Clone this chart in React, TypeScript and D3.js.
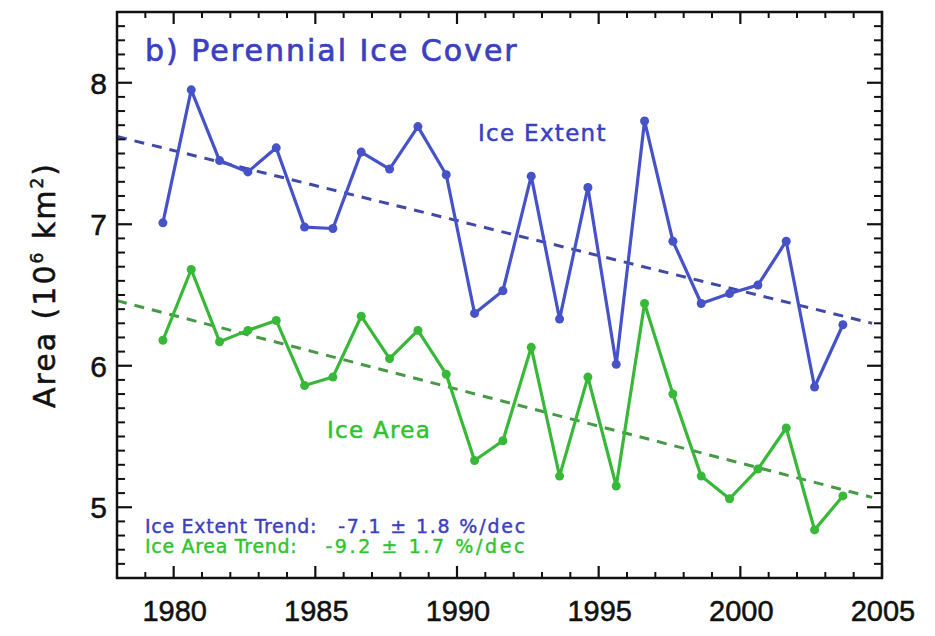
import React from 'react';
import * as d3 from 'd3';

const years = [1979, 1980, 1981, 1982, 1983, 1984, 1985, 1986, 1987, 1988, 1989, 1990, 1991, 1992, 1993, 1994, 1995, 1996, 1997, 1998, 1999, 2000, 2001, 2002, 2003];
const iceExtent = [7.01, 7.95, 7.45, 7.37, 7.54, 6.98, 6.97, 7.51, 7.39, 7.69, 7.35, 6.37, 6.53, 7.34, 6.33, 7.26, 6.01, 7.73, 6.88, 6.44, 6.51, 6.57, 6.88, 5.85, 6.29];
const iceArea = [6.18, 6.68, 6.17, 6.25, 6.32, 5.86, 5.92, 6.35, 6.05, 6.25, 5.94, 5.33, 5.47, 6.13, 5.22, 5.92, 5.15, 6.44, 5.80, 5.22, 5.06, 5.27, 5.56, 4.84, 5.08];
const trendYears = [1978, 2004.65];
const extentTrend = [7.62, 6.30];
const areaTrend = [6.46, 5.07];
const xTickLabels = [1980, 1985, 1990, 1995, 2000, 2005];
const yTickLabels = [5, 6, 7, 8];

const W = 935, H = 636;
const L = 117, R = 882, T = 12, B = 578;
const SEASON_OFFSET = 0.62;

const BLUE = '#4652c8';
const BLUE_DASH = '#4049a8';
const BLUE_TEXT = '#3b3fc0';
const GREEN = '#38b838';
const GREEN_DASH = '#469a46';
const GREEN_TEXT = '#2fc42f';

export default function App() {
  const x = d3.scaleLinear().domain([1978, 2005]).range([L, R]);
  const y = d3.scaleLinear().domain([4.5, 8.5]).range([B, T]);
  const line = d3.line<[number, number]>().x(d => x(d[0])).y(d => y(d[1]));

  const extPts: [number, number][] = years.map((yr, i) => [yr + SEASON_OFFSET, iceExtent[i]]);
  const areaPts: [number, number][] = years.map((yr, i) => [yr + SEASON_OFFSET, iceArea[i]]);
  const extTr: [number, number][] = trendYears.map((yr, i) => [yr, extentTrend[i]]);
  const areaTr: [number, number][] = trendYears.map((yr, i) => [yr, areaTrend[i]]);

  const xMinor = d3.range(1978, 2006, 1).filter(v => v % 5 !== 0);
  const yMinor = d3.range(45, 86, 1).map(v => v / 10).filter(v => Math.abs(v - Math.round(v)) > 1e-6);

  const font = '"DejaVu Sans", sans-serif';
  const numFont = '"Liberation Sans", Arial, sans-serif';

  return (
    <svg width={W} height={H} style={{ position: 'absolute', left: 0, top: 0, background: '#fff' }}>
      <rect x={0} y={0} width={W} height={H} fill="#fff" />
      {/* trend lines */}
      <path d={line(extTr) || ''} fill="none" stroke={BLUE_DASH} strokeWidth={3} strokeDasharray="10 8" />
      <path d={line(areaTr) || ''} fill="none" stroke={GREEN_DASH} strokeWidth={3} strokeDasharray="10 8" />
      {/* data lines */}
      <path d={line(extPts) || ''} fill="none" stroke={BLUE} strokeWidth={3.2} strokeLinejoin="round" />
      <path d={line(areaPts) || ''} fill="none" stroke={GREEN} strokeWidth={3.2} strokeLinejoin="round" />
      {extPts.map((p, i) => <circle key={'e' + i} cx={x(p[0])} cy={y(p[1])} r={4.5} fill={BLUE} />)}
      {areaPts.map((p, i) => <circle key={'a' + i} cx={x(p[0])} cy={y(p[1])} r={4.5} fill={GREEN} />)}

      {/* frame */}
      <rect x={L} y={T} width={R - L} height={B - T} fill="none" stroke="#111" strokeWidth={2.5} />
      {/* y ticks */}
      {yTickLabels.map(v => (
        <g key={'ym' + v}>
          <line x1={L} x2={L + 15} y1={y(v)} y2={y(v)} stroke="#111" strokeWidth={2.2} />
          <line x1={R} x2={R - 15} y1={y(v)} y2={y(v)} stroke="#111" strokeWidth={2.2} />
          <text x={107} y={y(v) + 11} textAnchor="end" fontFamily={numFont} fontSize={30} fill="#111" stroke="#111" strokeWidth={0.5}>{v}</text>
        </g>
      ))}
      {yMinor.map(v => (
        <g key={'yn' + v}>
          <line x1={L} x2={L + 8} y1={y(v)} y2={y(v)} stroke="#111" strokeWidth={2} />
          <line x1={R} x2={R - 8} y1={y(v)} y2={y(v)} stroke="#111" strokeWidth={2} />
        </g>
      ))}
      {/* x ticks */}
      {xTickLabels.map(v => (
        <g key={'xm' + v}>
          <line x1={x(v)} x2={x(v)} y1={B} y2={B - 12} stroke="#111" strokeWidth={2.2} />
          <line x1={x(v)} x2={x(v)} y1={T} y2={T + 12} stroke="#111" strokeWidth={2.2} />
          <text x={x(v) + 1} y={621} textAnchor="middle" fontFamily={numFont} fontSize={29} fill="#111" stroke="#111" strokeWidth={0.5}>{v}</text>
        </g>
      ))}
      {xMinor.map(v => (
        <g key={'xn' + v}>
          <line x1={x(v)} x2={x(v)} y1={B} y2={B - 6} stroke="#111" strokeWidth={2} />
          <line x1={x(v)} x2={x(v)} y1={T} y2={T + 6} stroke="#111" strokeWidth={2} />
        </g>
      ))}

      {/* y axis label */}
      <text transform="translate(55,285) rotate(-90)" textAnchor="middle" fontFamily={font} fontSize={30} letterSpacing={2} fill="#111" stroke="#111" strokeWidth={0.5}>
        Area (10<tspan fontSize={17} dy={-12}>6</tspan><tspan dy={12}> km</tspan><tspan fontSize={17} dy={-12}>2</tspan><tspan dy={12}>)</tspan>
      </text>

      {/* title */}
      <text x={145} y={61} fontFamily={font} fontSize={30} letterSpacing={2} fill={BLUE_TEXT} stroke={BLUE_TEXT} strokeWidth={0.7}>b) Perennial Ice Cover</text>
      <text x={478} y={141} fontFamily={font} fontSize={23} letterSpacing={1.3} fill={BLUE_TEXT} stroke={BLUE_TEXT} strokeWidth={0.5}>Ice Extent</text>
      <text x={327} y={438} fontFamily={font} fontSize={23} letterSpacing={1.3} fill={GREEN_TEXT} stroke={GREEN_TEXT} strokeWidth={0.5}>Ice Area</text>

      {/* trend annotations */}
      <text x={145} y={533} fontFamily={font} fontSize={19} letterSpacing={0.7} fill={BLUE_TEXT} stroke={BLUE_TEXT} strokeWidth={0.4}>Ice Extent Trend:</text>
      <text x={527} y={533} textAnchor="end" fontFamily={font} fontSize={19} letterSpacing={1.8} fill={BLUE_TEXT} stroke={BLUE_TEXT} strokeWidth={0.4}>-7.1 ± 1.8 %/dec</text>
      <text x={145} y={553} fontFamily={font} fontSize={19} letterSpacing={0.7} fill={GREEN_TEXT} stroke={GREEN_TEXT} strokeWidth={0.4}>Ice Area Trend:</text>
      <text x={527} y={553} textAnchor="end" fontFamily={font} fontSize={19} letterSpacing={2.6} fill={GREEN_TEXT} stroke={GREEN_TEXT} strokeWidth={0.4}>-9.2 ± 1.7 %/dec</text>
    </svg>
  );
}
